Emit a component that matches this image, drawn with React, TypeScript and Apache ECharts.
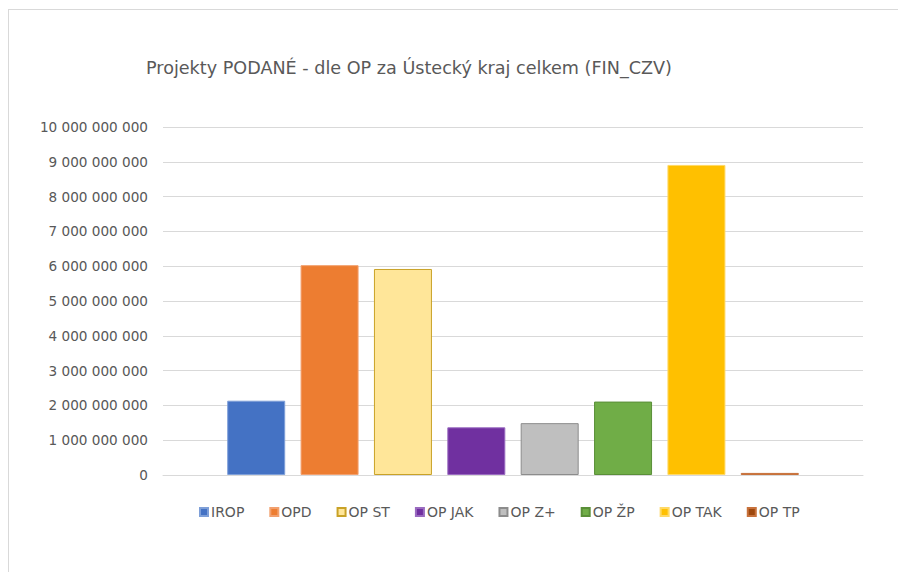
import React, { useEffect, useRef } from "react";
import * as echarts from "echarts";

const titleText = "Projekty PODANÉ - dle OP za Ústecký kraj celkem (FIN_CZV)";
const seriesNames = ["IROP", "OPD", "OP ST", "OP JAK", "OP Z+", "OP ŽP", "OP TAK", "OP TP"];
const seriesValues = [2135000000, 6030000000, 5920000000, 1370000000, 1490000000, 2110000000, 8910000000, 60000000];
const fillColors = ["#4472C4", "#ED7D31", "#FFE699", "#7030A0", "#BFBFBF", "#70AD47", "#FFC000", "#9E480E"];
const borderColors = ["#7E9FD8", "#F2A06E", "#C9A227", "#9A6BC0", "#8C8C8C", "#5A8F38", "#FFD966", "#C8723C"];
const yMin = 0;
const yMax = 10000000000;
const yInterval = 1000000000;

function fmt(v: number): string {
  return String(Math.round(v)).replace(/\B(?=(\d{3})+(?!\d))/g, " ");
}

export default function App() {
  const ref = useRef<HTMLDivElement>(null);
  useEffect(() => {
    if (!ref.current) return;
    const chart = echarts.init(ref.current, null, { renderer: "svg" });
    const font = "DejaVu Sans";
    chart.setOption({
      animation: false,
      backgroundColor: "#ffffff",
      title: {
        text: titleText,
        left: 141,
        top: 54,
        textStyle: { fontFamily: font, fontSize: 17.6, fontWeight: "normal", color: "#595959" },
      },
      graphic: [
        { type: "line", shape: { x1: 8, y1: 9.5, x2: 898, y2: 9.5 }, style: { stroke: "#d9d9d9", lineWidth: 1 } },
        { type: "line", shape: { x1: 8.5, y1: 9, x2: 8.5, y2: 572 }, style: { stroke: "#d9d9d9", lineWidth: 1 } },
      ],
      legend: {
        left: 194,
        top: 500,
        itemWidth: 8,
        itemHeight: 8,
        itemGap: 25,
        icon: "rect",
        textStyle: { fontFamily: font, fontSize: 14, color: "#595959", padding: [0, 0, 0, -2] },
        data: seriesNames,
      },
      grid: { left: 163, right: 35, top: 127, bottom: 97, containLabel: false },
      xAxis: {
        type: "category",
        data: [""],
        axisLine: { show: true, lineStyle: { color: "#d9d9d9", width: 1 } },
        axisTick: { show: false },
        axisLabel: { show: false },
      },
      yAxis: {
        type: "value",
        min: yMin,
        max: yMax,
        interval: yInterval,
        axisLine: { show: false },
        axisTick: { show: false },
        splitLine: { lineStyle: { color: "#d9d9d9", width: 1 } },
        axisLabel: {
          margin: 15,
          fontFamily: font,
          fontSize: 13.6,
          color: "#595959",
          formatter: (v: number) => fmt(v),
        },
      },
      series: seriesNames.map((name, i) => ({
        name,
        type: "bar",
        data: [seriesValues[i]],
        barWidth: 58,
        barGap: "26.5%",
        itemStyle: { color: fillColors[i], borderColor: borderColors[i], borderWidth: 1 },
      })),
    });
    return () => chart.dispose();
  }, []);
  return (
    <div
      ref={ref}
      style={{ position: "fixed", left: 0, top: 0, width: 898, height: 572 }}
    />
  );
}
